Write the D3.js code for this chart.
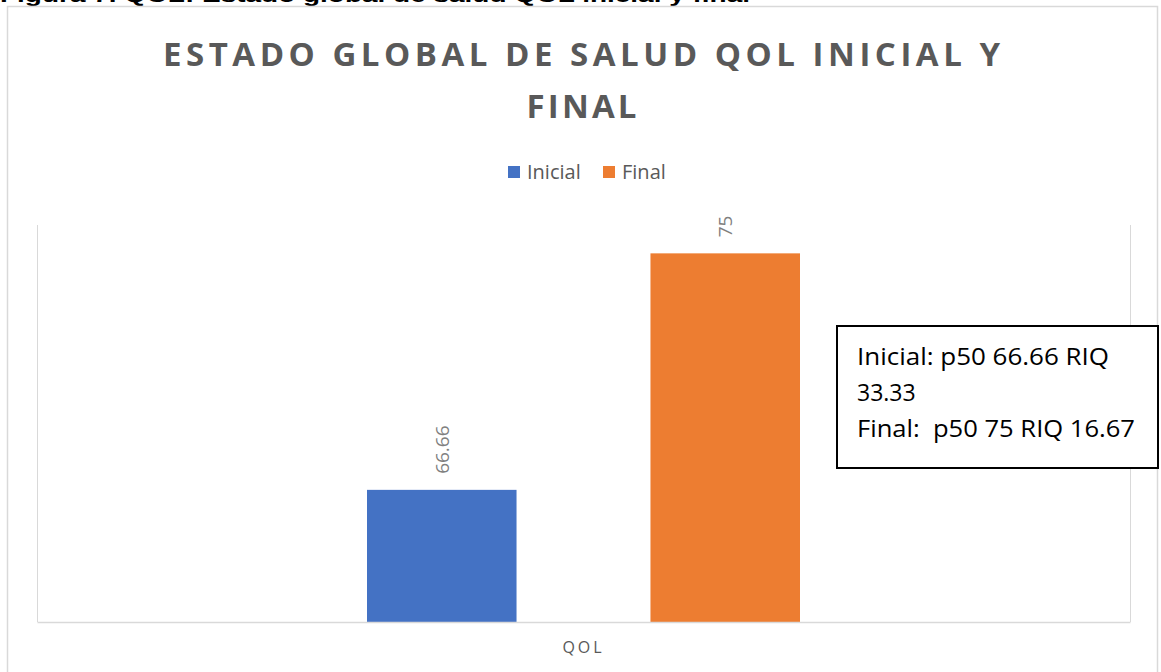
<!DOCTYPE html>
<html>
<head>
<meta charset="utf-8">
<script src="https://cdn.jsdelivr.net/npm/d3@7"></script>
<style>
  html, body { margin: 0; padding: 0; background: #ffffff; }
  svg { display: block; }
</style>
</head>
<body>
<div id="chart"></div>
<script>
// ---- data ----
const categories = ["QOL"];
const seriesNames = ["Inicial", "Final"];
const seriesValues = [66.66, 75];
const seriesColors = ["#4472c4", "#ed7d31"];
const valueLabels = ["66.66", "75"];
const titleLines = ["ESTADO GLOBAL DE SALUD QOL INICIAL Y", "FINAL"];
const noteLines = ["Inicial: p50 66.66 RIQ", "33.33", "Final:  p50 75 RIQ 16.67"];
const captionText = "Figura 7. QOL: Estado global de salud QOL inicial y final";
const yDomain = [62, 76];

const W = 1161, H = 672;
const svg = d3.select("#chart").append("svg").attr("width", W).attr("height", H);

// caption clipped at top (as in the reference)
svg.append("text")
  .attr("x", 0).attr("y", 1.5)
  .attr("font-family", "Liberation Sans, Arial, sans-serif")
  .attr("font-weight", "bold").attr("font-size", 20)
  .attr("textLength", 750).attr("lengthAdjust", "spacingAndGlyphs")
  .attr("fill", "#000")
  .text(captionText);

// outer chart border
svg.append("rect")
  .attr("x", 7.5).attr("y", 6.5).attr("width", 1150).attr("height", 700)
  .attr("fill", "none").attr("stroke", "#d9d9d9").attr("stroke-width", 1.5);

// plot area
const plot = { left: 37, right: 1130, top: 225, bottom: 622 };

const x0 = d3.scaleBand().domain(categories).range([plot.left, plot.right]);
const x1 = d3.scaleBand().domain(seriesNames).range([0, 433]).paddingInner(0.4725).paddingOuter(0);
const y = d3.scaleLinear().domain(yDomain).range([plot.bottom, plot.top]);

// plot area borders (left, right)
svg.append("line").attr("x1", plot.left + 0.5).attr("x2", plot.left + 0.5)
  .attr("y1", plot.top).attr("y2", plot.bottom).attr("stroke", "#d9d9d9");
svg.append("line").attr("x1", plot.right + 0.5).attr("x2", plot.right + 0.5)
  .attr("y1", plot.top).attr("y2", plot.bottom).attr("stroke", "#d9d9d9");

// bars
const groupOffset = (x0.bandwidth() - 433) / 2;
const g = svg.append("g");
categories.forEach((cat) => {
  seriesNames.forEach((s, i) => {
    const bx = x0(cat) + groupOffset + x1(s);
    g.append("rect")
      .attr("x", bx).attr("y", y(seriesValues[i]))
      .attr("width", x1.bandwidth())
      .attr("height", y(yDomain[0]) - y(seriesValues[i]))
      .attr("fill", seriesColors[i]);
    const cx = bx + x1.bandwidth() / 2;
    const ty = y(seriesValues[i]) - 16;
    g.append("text")
      .attr("transform", `translate(${cx + 7},${ty}) rotate(-90)`)
      .attr("font-family", "Open Sans, sans-serif")
      .attr("font-size", 19)
      .attr("fill", "#7f7f7f")
      .attr("text-anchor", "start")
      .text(valueLabels[i]);
  });
});

// x axis line
const xAxis = svg.append("g").attr("transform", `translate(0,${plot.bottom})`)
  .call(d3.axisBottom(x0).tickSize(0).tickPadding(20));
xAxis.select(".domain").attr("stroke", "#d9d9d9").attr("stroke-width", 1.5);
xAxis.selectAll("text")
  .attr("font-family", "Open Sans, sans-serif")
  .attr("font-size", 16)
  .attr("fill", "#595959")
  .attr("letter-spacing", "3px")
  .attr("dy", "0.71em");

// title
const titleY = [66, 118];
const titleLen = [837, 110];
titleLines.forEach((t, i) => {
  svg.append("text")
    .attr("x", 581.5).attr("y", titleY[i])
    .attr("text-anchor", "middle")
    .attr("font-family", "Open Sans, sans-serif")
    .attr("font-weight", "bold")
    .attr("font-size", 33)
    .attr("fill", "#595959")
    .attr("textLength", titleLen[i]).attr("lengthAdjust", "spacing")
    .text(t);
});

// legend
const legendX = [508, 603];
const legend = svg.append("g");
seriesNames.forEach((s, i) => {
  legend.append("rect")
    .attr("x", legendX[i]).attr("y", 166).attr("width", 12).attr("height", 12)
    .attr("fill", seriesColors[i]);
  legend.append("text")
    .attr("x", legendX[i] + 19).attr("y", 179)
    .attr("font-family", "Open Sans, sans-serif")
    .attr("font-size", 20)
    .attr("fill", "#595959")
    .text(s);
});

// note box
svg.append("rect")
  .attr("x", 837).attr("y", 326).attr("width", 321).attr("height", 142)
  .attr("fill", "#ffffff").attr("stroke", "#000").attr("stroke-width", 2);
const noteY = [365, 401, 437];
const noteLen = [252, null, 278];
noteLines.forEach((t, i) => {
  const tx = svg.append("text")
    .attr("x", 857).attr("y", noteY[i])
    .attr("font-family", "Open Sans, sans-serif")
    .attr("font-size", 23)
    .attr("fill", "#000")
    .attr("xml:space", "preserve")
    .style("white-space", "pre")
    .text(t);
  if (noteLen[i]) tx.attr("textLength", noteLen[i]).attr("lengthAdjust", "spacingAndGlyphs");
});
</script>
</body>
</html>
